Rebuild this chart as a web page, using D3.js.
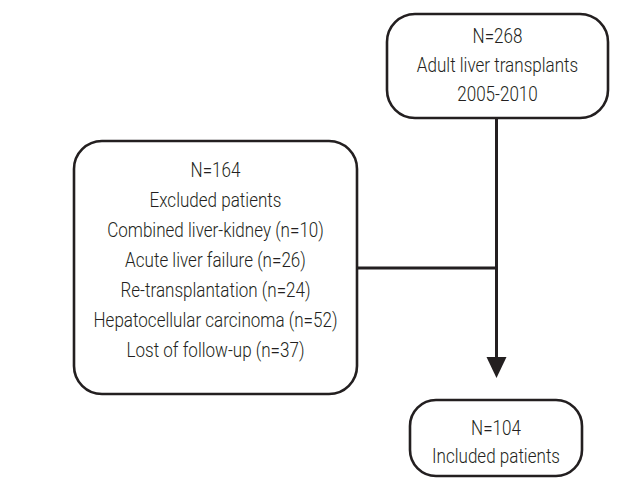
<!DOCTYPE html>
<html>
<head>
<meta charset="utf-8">
<script src="https://cdn.jsdelivr.net/npm/d3@7/dist/d3.min.js"></script>
<style>
  body { margin: 0; background: #fff; }
  text { font-family: Roboto, "Liberation Sans", sans-serif; font-weight: 300; fill: #231f20; }
</style>
</head>
<body>
<svg id="chart" width="643" height="504"></svg>
<script>
// box contents
var top_lines = ["N=268", "Adult liver transplants", "2005-2010"];
var excluded_lines = ["N=164", "Excluded patients",
    "Combined liver-kidney (n=10)", "Acute liver failure (n=26)",
    "Re-transplantation (n=24)", "Hepatocellular carcinoma (n=52)",
    "Lost of follow-up (n=37)"];
var included_lines = ["N=104", "Included patients"];

var svg = d3.select("#chart"),
    ink = "#231f20",
    font_size = 20,
    widest_px = 244;   // width of the longest line in the picture

// layout of boxes: ty = centre of first text line
var boxes = [
    { lines: top_lines,      x0: 387, x1: 608, y0: 14,  y1: 118, r: 28, ty: 36,  step: 29 },
    { lines: excluded_lines, x0: 74,  x1: 357, y0: 141, y1: 394, r: 28, ty: 170, step: 30 },
    { lines: included_lines, x0: 410, x1: 582, y0: 400, y1: 476, r: 26, ty: 428, step: 27.5 }
];

var g = svg.selectAll("g.box")
    .data(boxes)
  .enter().append("g")
    .attr("class", "box");

g.append("rect")
    .attr("x", function(d) { return d.x0; })
    .attr("y", function(d) { return d.y0; })
    .attr("width", function(d) { return d.x1 - d.x0; })
    .attr("height", function(d) { return d.y1 - d.y0; })
    .attr("rx", function(d) { return d.r; })
    .style("fill", "none")
    .style("stroke", ink)
    .style("stroke-width", 2.6);

var labels = g.selectAll("text")
    .data(function(d) {
        return d.lines.map(function(t, i) {
            return { t: t, x: (d.x0 + d.x1) / 2, y: d.ty + i * d.step };
        });
    })
  .enter().append("text")
    .attr("dy", "0.36em")
    .attr("text-anchor", "middle")
    .style("font-size", font_size + "px")
    .text(function(d) { return d.t; });

// condensed face: squeeze horizontally so the widest line matches
var widest = 0;
labels.each(function() { widest = Math.max(widest, this.getComputedTextLength()); });
var sx = widest ? widest_px / widest : 1;
labels.attr("transform", function(d) {
    return "translate(" + d.x + "," + d.y + ") scale(" + sx + ",1)";
});

// connectors
var trunk_x = 496.5, branch_y = 268, tip_y = 378, head = 20;

svg.append("line")
    .attr("x1", trunk_x).attr("x2", trunk_x)
    .attr("y1", boxes[0].y1).attr("y2", tip_y - head)
    .style("stroke", ink).style("stroke-width", 3);

svg.append("line")
    .attr("x1", boxes[1].x1).attr("x2", trunk_x)
    .attr("y1", branch_y).attr("y2", branch_y)
    .style("stroke", ink).style("stroke-width", 3);

svg.append("path")
    .attr("d", d3.line()([[trunk_x - 10, tip_y - head - 1], [trunk_x + 10, tip_y - head - 1], [trunk_x, tip_y]]) + "Z")
    .style("fill", ink);
</script>
</body>
</html>
